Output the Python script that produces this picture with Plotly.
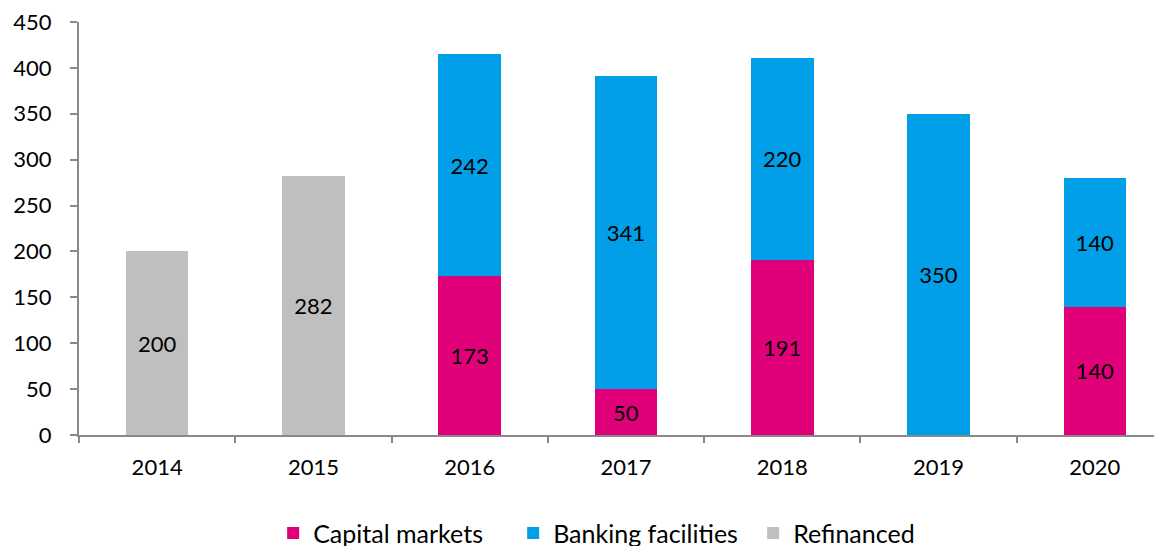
import plotly.graph_objects as go

years = ["2014", "2015", "2016", "2017", "2018", "2019", "2020"]
capital_markets = [None, None, 173, 50, 191, None, 140]
banking_facilities = [None, None, 242, 341, 220, 350, 140]
refinanced = [200, 282, None, None, None, None, None]

series = [
    ("Capital markets", capital_markets, "#E0007A"),
    ("Banking facilities", banking_facilities, "#009FE8"),
    ("Refinanced", refinanced, "#BFBFBF"),
]

FONT = "Lato, 'Open Sans', sans-serif"

fig = go.Figure()
for name, vals, col in series:
    fig.add_trace(go.Bar(
        x=years, y=vals, name=name,
        marker=dict(color=col, line=dict(width=0)),
        width=0.4,
        text=[("" if v is None else str(v)) for v in vals],
        textposition="inside", insidetextanchor="middle",
        textangle=0,
        textfont=dict(family=FONT, size=22, color="#000000"),
        cliponaxis=False,
    ))

# page body has an 8px default margin, so the figure is offset by (8, 8)
fig.update_layout(
    barmode="stack",
    width=1162, height=546,
    margin=dict(l=71, r=8, t=14, b=119, autoexpand=False),
    paper_bgcolor="white", plot_bgcolor="white",
    font=dict(family=FONT, size=22, color="#000000"),
    uniformtext=dict(minsize=22, mode="show"),
    showlegend=True,
    legend=dict(orientation="h", x=0.538, xref="container", xanchor="center",
                y=0.038, yref="container", yanchor="middle",
                font=dict(family=FONT, size=25, color="#000000"),
                traceorder="normal", itemwidth=30, entrywidth=195),
    xaxis=dict(
        range=[-0.5, 6.43], automargin=False,
        showline=True, linecolor="#898989", linewidth=2,
        ticks="outside", tickson="boundaries", ticklen=6, tickcolor="#898989", tickwidth=2,
        showgrid=False, ticklabelstandoff=12, ticklabeloverflow="allow",
        tickfont=dict(family=FONT, size=22),
    ),
    yaxis=dict(
        range=[0, 450], dtick=50, tick0=0, automargin=False,
        showline=True, linecolor="#898989", linewidth=2,
        ticks="outside", ticklen=7, tickcolor="#898989", tickwidth=2,
        showgrid=False, zeroline=False, ticklabelstandoff=14, ticklabeloverflow="allow",
        tickfont=dict(family=FONT, size=22),
    ),
)

fig.write_html("out.html")
